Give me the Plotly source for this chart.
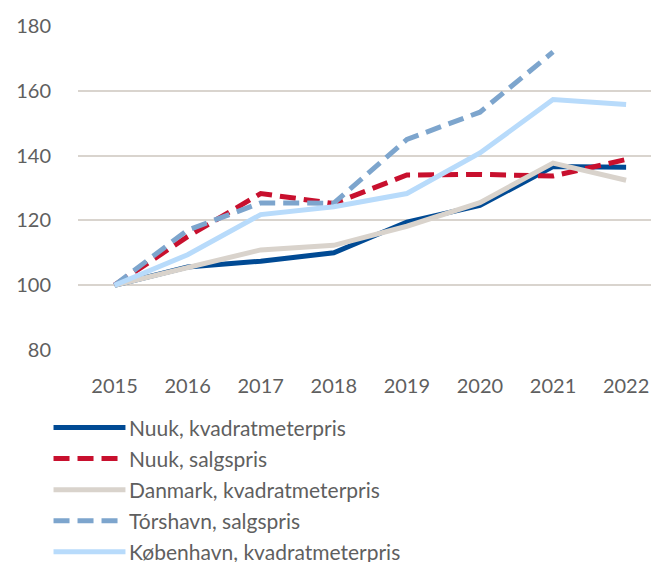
import plotly.graph_objects as go

years = ["2015", "2016", "2017", "2018", "2019", "2020", "2021", "2022"]

nuuk_kvm = [100, 105.6, 107.4, 110.0, 119.5, 124.6, 136.6, 136.4]
nuuk_salg = [100, 115.0, 128.3, 125.2, 134.0, 134.2, 133.7, 138.8]
danmark_kvm = [100, 105.3, 110.9, 112.3, 118.2, 125.5, 137.7, 132.4]
torshavn_salg = [100, 117.0, 125.4, 125.3, 145.0, 153.4, 172.0, None]
kbh_kvm = [100, 109.4, 121.8, 124.2, 128.3, 140.8, 157.3, 155.8]

names = ["Nuuk, kvadratmeterpris", "Nuuk, salgspris", "Danmark, kvadratmeterpris",
         "Tórshavn, salgspris", "København, kvadratmeterpris"]
series = [nuuk_kvm, nuuk_salg, danmark_kvm, torshavn_salg, kbh_kvm]
colors = ["#004A94", "#C8102E", "#D9D3CC", "#7DA5CD", "#B8DBFB"]
dashes = ["solid", "16px,8px", "solid", "16px,8px", "solid"]

fig = go.Figure()
for i in range(len(series)):
    fig.add_trace(go.Scatter(
        x=years, y=series[i], mode="lines", name=names[i],
        line=dict(color=colors[i], width=5, dash=dashes[i]),
        showlegend=False, connectgaps=False,
    ))

# page body has an 8px margin; compensate
OFF = 8
W, H = 659 - OFF, 562 - OFF
left = 77.5 - OFF
top = 25.7 - OFF
bottom = 350.3 - OFF
font_family = "Lato, 'Open Sans', sans-serif"
text_color = "#5f5f5f"

# custom legend (paper coords)
leg_top = 428 - OFF
leg_step = 31.1
for k in range(5):
    ypx = leg_top + k * leg_step
    yp = 1 - (ypx - top) / (bottom - top)
    fig.add_shape(type="line", xref="paper", yref="paper",
                  x0=(53 - OFF - left) / (W - left), x1=(125 - OFF - left) / (W - left),
                  y0=yp, y1=yp,
                  line=dict(color=colors[k], width=5, dash=dashes[k]))
    fig.add_annotation(xref="paper", yref="paper",
                       x=(127 - OFF - left) / (W - left), y=yp, xanchor="left", yanchor="middle",
                       text=names[k], showarrow=False,
                       font=dict(family=font_family, size=21, color=text_color))

fig.update_layout(
    width=W, height=H,
    margin=dict(l=left, r=0, t=top, b=H - bottom, autoexpand=False),
    plot_bgcolor="white", paper_bgcolor="white",
    font=dict(family=font_family, size=20, color=text_color),
    showlegend=False,
)
fig.update_xaxes(type="category", range=[-0.5, 7.45], showgrid=False, zeroline=False,
                 showline=False, ticks="", ticklabelstandoff=22,
                 tickfont=dict(size=20, color=text_color))
fig.update_yaxes(range=[80, 180], dtick=20, showgrid=True, gridcolor="#D9D4CE", gridwidth=2,
                 zeroline=False, showline=False, ticks="", ticklabelstandoff=26,
                 tickfont=dict(size=20, color=text_color))

fig.write_html("out.html")
